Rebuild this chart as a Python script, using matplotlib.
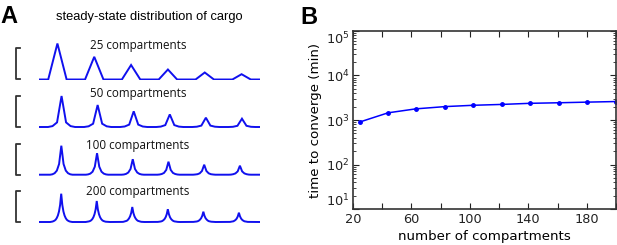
import matplotlib
matplotlib.use("Agg")
import matplotlib.pyplot as plt
import matplotlib.transforms as mtransforms
from matplotlib.ticker import FixedLocator, NullFormatter, LogLocator

# ---------------- data ----------------
trace_labels = ["25 compartments", "50 compartments", "100 compartments", "200 compartments"]

cargo_25 = [0, 0, 36.0, 0, 0, 0, 22.7, 0, 0, 0, 14.5, 0, 0, 0, 10.0, 0, 0, 0, 7.0,
            0, 0, 0, 5.3, 0, 0]

cargo_50 = [0, 0, 0, 0.9, 4.6, 31.0, 4.6, 0.9, 0, 0,
            0, 0.7, 3.3, 22.0, 3.3, 0.7, 0, 0, 0, 0.5,
            2.4, 15.7, 2.4, 0.5, 0, 0, 0, 0.4, 1.9, 12.6,
            1.9, 0.4, 0, 0, 0, 0.3, 1.4, 9.3, 1.4, 0.3,
            0, 0, 0, 0.2, 1.2, 8.3, 1.2, 0.2, 0, 0]

cargo_100 = [0, 0, 0, 0, 0, 0, 0.4, 1.5, 4.1, 10.7,
             29.0, 10.7, 4.1, 1.5, 0.4, 0, 0, 0, 0, 0,
             0, 0, 0.3, 1.1, 3.0, 8.0, 21.5, 8.0, 3.0, 1.1,
             0.3, 0, 0, 0, 0, 0, 0, 0, 0.2, 0.8,
             2.2, 5.7, 15.5, 5.7, 2.2, 0.8, 0.2, 0, 0, 0,
             0, 0, 0, 0, 0.2, 0.7, 1.8, 4.8, 13.0, 4.8,
             1.8, 0.7, 0.2, 0, 0, 0, 0, 0, 0, 0,
             0.2, 0.5, 1.4, 3.7, 10.0, 3.7, 1.4, 0.5, 0.2, 0,
             0, 0, 0, 0, 0, 0, 0.1, 0.5, 1.3, 3.3,
             9.0, 3.3, 1.3, 0.5, 0.1, 0, 0, 0, 0, 0]

cargo_200 = [0, 0, 0, 0, 0, 0, 0, 0, 0, 0,
             0, 0.2, 0.4, 0.8, 1.4, 2.3, 4.0, 6.5, 10.5, 17.0,
             28.3, 17.0, 10.5, 6.5, 4.0, 2.3, 1.4, 0.8, 0.4, 0.2,
             0, 0, 0, 0, 0, 0, 0, 0, 0, 0,
             0, 0, 0, 0.2, 0.3, 0.6, 1.0, 1.7, 2.9, 4.8,
             7.8, 12.6, 21.0, 12.6, 7.8, 4.8, 2.9, 1.7, 1.0, 0.6,
             0.3, 0.2, 0, 0, 0, 0, 0, 0, 0, 0,
             0, 0, 0, 0, 0, 0.1, 0.2, 0.5, 0.8, 1.2,
             2.1, 3.5, 5.6, 9.0, 15.0, 9.0, 5.6, 3.5, 2.1, 1.2,
             0.8, 0.5, 0.2, 0.1, 0, 0, 0, 0, 0, 0,
             0, 0, 0, 0, 0, 0, 0, 0.1, 0.2, 0.4,
             0.6, 1.0, 1.8, 2.9, 4.7, 7.7, 12.8, 7.7, 4.7, 2.9,
             1.8, 1.0, 0.6, 0.4, 0.2, 0.1, 0, 0, 0, 0,
             0, 0, 0, 0, 0, 0, 0, 0, 0, 0.1,
             0.2, 0.3, 0.5, 0.8, 1.4, 2.4, 3.8, 6.2, 10.3, 6.2,
             3.8, 2.4, 1.4, 0.8, 0.5, 0.3, 0.2, 0.1, 0, 0,
             0, 0, 0, 0, 0, 0, 0, 0, 0, 0,
             0, 0.1, 0.1, 0.3, 0.5, 0.7, 1.3, 2.1, 3.4, 5.6,
             9.3, 5.6, 3.4, 2.1, 1.3, 0.7, 0.5, 0.3, 0.1, 0.1,
             0, 0, 0, 0, 0, 0, 0, 0, 0, 0]

traces = [cargo_25, cargo_50, cargo_100, cargo_200]
label_heights = [33.5, 33.5, 29.5, 30.5]
scale_bar = 31.0

n_compartments = [25, 44, 63, 83, 102, 122, 141, 161, 180, 200]
time_to_converge = [910, 1450, 1780, 2000, 2140, 2240, 2370, 2440, 2520, 2600]

x_ticks = [20, 40, 60, 80, 100, 120, 140, 160, 180, 200]
x_ticklabels = ["20", "", "60", "", "100", "", "140", "", "180", ""]
y_ticks = [1e1, 1e2, 1e3, 1e4, 1e5]
y_ticklabels = [r"$10^{1}$", r"$10^{2}$", r"$10^{3}$", r"$10^{4}$", r"$10^{5}$"]

# ---------------- figure ----------------
W, H = 617, 245
fig = plt.figure(figsize=(W / 100, H / 100), dpi=100)
fig.patch.set_facecolor("white")

def fbox(x0, y0, x1, y1):
    # pixel box (top-left origin) -> figure fraction rect
    return [x0 / W, 1 - y1 / H, (x1 - x0) / W, (y1 - y0) / H]

# ---- Panel A ----
fig.text(0 / W, 1 - 16.5 / H, "A", fontsize=17, fontweight="bold",
         family="Liberation Sans", va="center", ha="left")
fig.text(149 / W, 1 - 16.7 / H, "steady-state distribution of cargo",
         fontsize=9.3, family="Liberation Sans", ha="center", va="center")

baselines = [79.5, 127.0, 174.7, 222.0]
for data, lab, lh, base in zip(traces, trace_labels, label_heights, baselines):
    ax = fig.add_axes(fbox(39, base - 40, 260, base + 1))
    ax.plot(range(len(data)), data, color="#1010ee", lw=1.4, solid_joinstyle="miter")
    ax.set_xlim(0, len(data) - 1)
    ax.set_ylim(-1, 40)
    ax.axis("off")
    tr = mtransforms.blended_transform_factory(ax.transAxes, ax.transData)
    ax.plot([-0.087, -0.105, -0.105, -0.087], [scale_bar, scale_bar, 0, 0],
            color="#333333", lw=1.3, transform=tr, clip_on=False)
    ax.text(0.448, lh, lab, transform=tr, ha="center", va="center",
            fontsize=8.4, family="Open Sans", color="#111111")

# ---- Panel B ----
fig.text(300 / W, 1 - 17 / H, "B", fontsize=17, fontweight="bold",
         family="Liberation Sans", va="center", ha="left")

axb = fig.add_axes(fbox(353, 31, 616, 209))
axb.plot(n_compartments, time_to_converge, color="#0000ff", lw=1.1,
         marker=".", markersize=5)
axb.set_yscale("log")
axb.set_xlim(20, 200)
axb.set_ylim(10, 1e5)
axb.xaxis.set_major_locator(FixedLocator(x_ticks))
axb.set_xticklabels(x_ticklabels)
axb.yaxis.set_major_locator(FixedLocator(y_ticks))
axb.set_yticklabels(y_ticklabels)
axb.yaxis.set_minor_locator(LogLocator(base=10, subs=range(2, 10), numticks=10))
axb.yaxis.set_minor_formatter(NullFormatter())
axb.tick_params(which="both", direction="in", top=True, right=True,
                labelsize=9.3, colors="#222222")
axb.tick_params(which="major", length=4, width=0.8)
axb.tick_params(which="minor", length=2, width=0.6)
axb.tick_params(axis="x", pad=3)
axb.tick_params(axis="y", pad=2.5)
for s in axb.spines.values():
    s.set_linewidth(1.2)
    s.set_color("#333333")
ylabs = axb.get_yticklabels()
ylabs[0].set_va("bottom")
ylabs[-1].set_va("top")
axb.set_xlabel("number of compartments", fontsize=9.6, labelpad=3)
axb.set_ylabel("time to converge (min)", fontsize=9.6, labelpad=3)

fig.savefig("out.png", dpi=100)
